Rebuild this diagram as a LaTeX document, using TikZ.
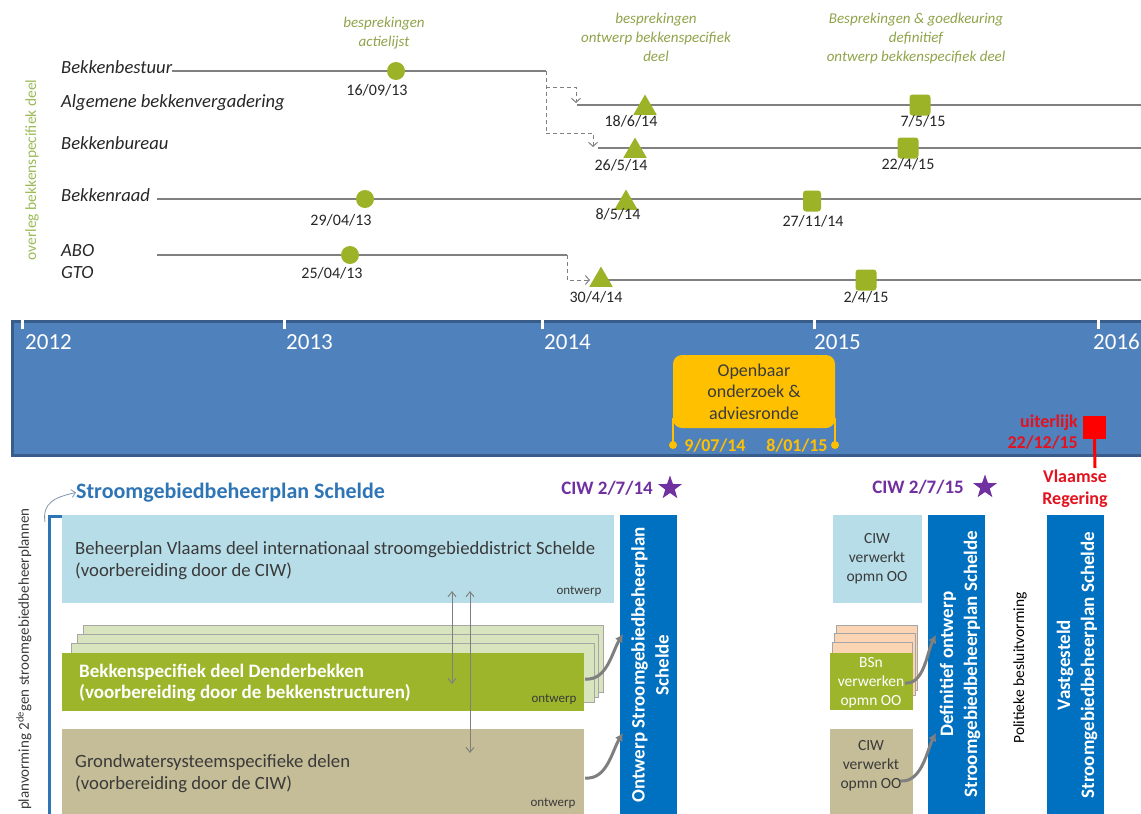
\documentclass[tikz,border=0pt]{standalone}
\usepackage{fontspec}
\setmainfont{Carlito}
\usetikzlibrary{arrows.meta,shapes.geometric}
\definecolor{txt}{HTML}{262626}
\definecolor{linec}{HTML}{808080}
\definecolor{mk}{HTML}{9CB227}
\definecolor{notec}{HTML}{8FA34A}
\definecolor{ovc}{HTML}{9BBB59}
\definecolor{band}{HTML}{4F81BD}
\definecolor{bandb}{HTML}{385D8A}
\definecolor{orng}{HTML}{FFC000}
\definecolor{otxt}{HTML}{3B3B3B}
\definecolor{redc}{HTML}{E3121E}
\definecolor{redsq}{HTML}{FF0000}
\definecolor{ttl}{HTML}{2E75B6}
\definecolor{brk}{HTML}{2E75B6}
\definecolor{lblue}{HTML}{B7DEE8}
\definecolor{sheetg}{HTML}{D7E4BD}
\definecolor{sheetb}{HTML}{A6A6A6}
\definecolor{greenb}{HTML}{9DB52A}
\definecolor{tan}{HTML}{C4BD97}
\definecolor{peach}{HTML}{FBD4B4}
\definecolor{barb}{HTML}{0070C0}
\definecolor{purp}{HTML}{7030A0}
\definecolor{boxtxt}{HTML}{3A3A3A}
\definecolor{arrowg}{HTML}{7F7F7F}
\definecolor{cvc}{HTML}{7F95B0}
\newcommand{\fsz}[2]{\fontsize{#1}{#2}\selectfont}
\begin{document}
\begin{tikzpicture}[x=1pt,y=-1pt,
  lbl/.style={anchor=mid west, inner sep=0pt, text=txt, font=\fsz{18.6}{21}\itshape},
  dt/.style={anchor=mid, inner sep=0pt, text=txt, font=\fsz{16}{19}},
  note/.style={anchor=north, inner sep=0pt, align=center, text=notec, font=\fsz{15}{19}\itshape},
  tl/.style={draw=linec, line width=1.2pt},
  dsh/.style={draw=linec, line width=1pt, dash pattern=on 4pt off 3pt},
  vtip/.style={-{Straight Barb[length=4pt,width=9pt]}},
  circ/.style={circle, fill=mk, minimum size=18pt, inner sep=0pt},
  tri/.style={regular polygon, regular polygon sides=3, fill=mk, minimum size=27pt, inner sep=0pt},
  sqr/.style={rectangle, rounded corners=3pt, fill=mk, minimum width=21pt, minimum height=21pt, inner sep=0pt},
  yr/.style={anchor=base west, inner sep=0pt, text=white, font=\fsz{23}{26}},
  boxs/.style={rectangle, anchor=north west, inner sep=0pt},
  bxt/.style={anchor=west, align=left, inner sep=0pt, text=boxtxt, font=\fsz{18.7}{22}},
  ontw/.style={inner sep=0pt, text=boxtxt, font=\fsz{13}{15}},
  bartxt/.style={rotate=90, align=center, text=white, inner sep=0pt, font=\fsz{19}{24}\bfseries},
  curv/.style={draw=arrowg, line width=3pt, -{Latex[length=8pt,width=9pt]}},
  dbl/.style={draw=arrowg, line width=0.9pt, {Straight Barb[length=5pt,width=8pt]}-{Straight Barb[length=5pt,width=8pt]}},
  smt/.style={align=center, inner sep=0pt, font=\fsz{15.5}{19}},
  ciw/.style={inner sep=0pt, text=purp, font=\fsz{19}{22}\bfseries},
  strs/.style={star, star points=5, star point ratio=2.5, fill=purp, minimum size=25pt, inner sep=0pt},
  sheet/.style={boxs, draw=sheetb, line width=0.6pt}
]
\useasboundingbox (0,0) rectangle (1141,814);
\clip (0,0) rectangle (1141,814);

% ---------- top: consultation rows ----------
\node[lbl] (lBB) at (61,71) {Bekkenbestuur};
\node[lbl] (lAB) at (61,105) {Algemene bekkenvergadering};
\node[lbl] (lBU) at (61,147) {Bekkenbureau};
\node[lbl] (lBR) at (61,199) {Bekkenraad};
\node[lbl] (lABO) at (61,254) {ABO};
\node[lbl] (lGTO) at (61,276) {GTO};

\node[note] (n1) at (384,17) {besprekingen\\actielijst};
\node[note] (n2) at (656,13) {besprekingen\\ontwerp bekkenspecifiek\\deel};
\node[note] (n3) at (916,13) {Besprekingen \& goedkeuring\\definitief\\ontwerp bekkenspecifiek deel};

\node[rotate=90, inner sep=0pt, text=ovc, font=\fsz{15.5}{18}] (ov) at (32,170) {overleg bekkenspecifiek deel};

\coordinate (j1) at (546,71);
\coordinate (j2) at (546,133);
\coordinate (j3) at (546,87);
\coordinate (k1) at (576,87);
\coordinate (k2) at (576,103);
\coordinate (k3) at (593,133);
\coordinate (k4) at (593,147);
\coordinate (aS) at (577,105); \coordinate (aE) at (1141,105);
\coordinate (uS) at (598,148); \coordinate (uE) at (1141,148);
\coordinate (rS) at (157,199); \coordinate (rE) at (1141,199);
\coordinate (oS) at (157,255); \coordinate (oJ) at (567,255); \coordinate (oK) at (567,280);
\coordinate (gA) at (590,280);
\coordinate (gS) at (601,280); \coordinate (gE) at (1141,280);

\draw[tl] (lBB.mid east) -- (j1);
\draw[dsh] (j1) -- (j2);
\draw[dsh, vtip] (j3) -- (k1) -- (k2);
\draw[dsh, vtip] (j2) -- (k3) -- (k4);
\draw[tl] (aS) -- (aE);
\draw[tl] (uS) -- (uE);
\draw[tl] (rS) -- (rE);
\draw[tl] (oS) -- (oJ);
\draw[dsh, vtip] (oJ) -- (oK) -- (gA);
\draw[tl] (gS) -- (gE);

\node[circ] (m1) at (396,71) {};
\node[tri] (m2) at (645,108) {};
\node[sqr] (m3) at (920,105) {};
\node[tri] (m4) at (635,151) {};
\node[sqr] (m5) at (908,148) {};
\node[circ] (m6) at (365,199) {};
\node[tri] (m7) at (626,203) {};
\node[sqr, minimum width=18pt] (m8) at (812,201) {};
\node[circ] (m9) at (350,255) {};
\node[tri] (m10) at (601,280) {};
\node[sqr] (m11) at (866,280) {};

\node[dt] (d1) at (377,93) {16/09/13};
\node[dt] (d2) at (631,124) {18/6/14};
\node[dt] (d3) at (923,124) {7/5/15};
\node[dt] (d4) at (621,168) {26/5/14};
\node[dt] (d5) at (908,167) {22/4/15};
\node[dt] (d6) at (341,223) {29/04/13};
\node[dt] (d7) at (618,217) {8/5/14};
\node[dt] (d8) at (813,224) {27/11/14};
\node[dt] (d9) at (332,276) {25/04/13};
\node[dt] (d10) at (596,300) {30/4/14};
\node[dt] (d11) at (866,300) {2/4/15};

% ---------- timeline band ----------
\node[fill=band, draw=bandb, line width=2.5pt, minimum width=1140pt, minimum height=134pt, anchor=north west, inner sep=0pt] (band) at (11,320) {};
\foreach \tx in {22,284,542,814,1098} \draw[white, line width=3pt] (\tx,315) -- (\tx,329);
\node[yr] (y12) at (25,349) {2012};
\node[yr] (y13) at (286,349) {2013};
\node[yr] (y14) at (544,349) {2014};
\node[yr] (y15) at (814,349) {2015};
\node[yr] (y16) at (1093,349) {2016};

\node[fill=orng, rounded corners=9pt, minimum width=162pt, minimum height=73pt, inner sep=0pt, align=center, text=otxt, font=\fsz{18}{21.5}] (oo) at (754,391.5) {Openbaar\\onderzoek \&\\adviesronde};
\node[circle, fill=orng, minimum size=8pt, inner sep=0pt] (od1) at (673,445) {};
\node[circle, fill=orng, minimum size=8pt, inner sep=0pt] (od2) at (835,445) {};
\draw[orng, line width=1.5pt] (od1.center) -- ([yshift=10pt]od1 |- oo.south);
\draw[orng, line width=1.5pt] (od2.center) -- ([yshift=10pt]od2 |- oo.south);
\node[inner sep=0pt, text=orng, font=\fsz{18}{21}\bfseries] (od1t) at (715,446) {9/07/14};
\node[inner sep=0pt, text=orng, font=\fsz{18}{21}\bfseries] (od2t) at (797,446) {8/01/15};

\node[fill=redsq, minimum size=23pt, inner sep=0pt] (rq) at (1094.5,427) {};
\coordinate (rl) at (1095,468);
\draw[redsq, line width=3pt] (rq.south) -- (rl);
\node[align=right, anchor=east, text=redc, inner sep=0pt, font=\fsz{18}{21}\bfseries] (ru) at (1078,432) {uiterlijk\\22/12/15};
\node[align=center, text=redc, inner sep=0pt, font=\fsz{18}{22}\bfseries] (vr) at (1075,489) {Vlaamse\\Regering};

% ---------- bottom: plans ----------
\node[anchor=mid west, inner sep=0pt, text=ttl, font=\fsz{22}{26}\bfseries] (title) at (76,496) {Stroomgebiedbeheerplan Schelde};
\coordinate (cv) at (45,522);
\draw[draw=cvc, line width=0.8pt, -{Straight Barb[length=4pt,width=8pt]}] (cv) .. controls (42,503) and (55,497) .. (title.west);
\coordinate (bk1) at (64,516); \coordinate (bk2) at (49,516); \coordinate (bk3) at (49,820);
\draw[brk, line width=3pt] (bk1) -- (bk2) -- (bk3);
\node[rotate=90, anchor=east, inner sep=0pt, text=boxtxt, font=\fsz{15}{18}] (pv) at (24,508) {planvorming 2\textsuperscript{de}gen stroomgebiedbeheerplannen};

\node[boxs, fill=lblue, minimum width=552pt, minimum height=88pt] (bp) at (62,515) {};
\node[bxt] (bpt) at (75,561) {Beheerplan Vlaams deel internationaal stroomgebieddistrict Schelde\\(voorbereiding door de CIW)};
\node[ontw] (bpo) at (579,591) {ontwerp};

\node[sheet, fill=sheetg, minimum width=520pt, minimum height=67pt] (s1) at (83,625) {};
\node[sheet, fill=sheetg, minimum width=521pt, minimum height=63pt] (s2) at (77,634) {};
\node[sheet, fill=sheetg, minimum width=523pt, minimum height=59pt] (s3) at (71,643) {};
\node[boxs, fill=greenb, minimum width=522pt, minimum height=58pt] (gb) at (62,653) {};
\node[anchor=west, align=left, text=white, inner sep=0pt, font=\fsz{19}{21.5}\bfseries] (gbt) at (79,683) {Bekkenspecifiek deel Denderbekken\\(voorbereiding door de bekkenstructuren)};
\node[ontw] (gbo) at (554,699) {ontwerp};

\node[boxs, fill=tan, minimum width=522pt, minimum height=95pt] (tb) at (62,729) {};
\node[bxt] (tbt) at (75,774) {Grondwatersysteemspecifieke delen\\(voorbereiding door de CIW)};
\node[ontw] (tbo) at (553,803) {ontwerp};

\coordinate (a1t) at (452,591); \coordinate (a1b) at (452,684);
\coordinate (a2t) at (470,591); \coordinate (a2b) at (470,753);
\draw[dbl] (a1t) -- (a1b);
\draw[dbl] (a2t) -- (a2b);

\node[boxs, fill=barb, minimum width=57pt, minimum height=310pt] (bar1) at (620,515) {};
\node[bartxt] (bar1t) at (650,665) {Ontwerp Stroomgebiedbeheerplan\\Schelde};
\coordinate (c1s) at (585,679); \coordinate (c1e) at (623,634);
\draw[curv] (c1s) .. controls (607,681) and (612,652) .. (c1e);
\coordinate (c2s) at (585,778); \coordinate (c2e) at (623,733);
\draw[curv] (c2s) .. controls (607,780) and (612,751) .. (c2e);

\node[ciw] (ciw1) at (607,488) {CIW 2/7/14};
\node[strs] (st1) at (670,488) {};

% right part
\node[boxs, fill=lblue, minimum width=89pt, minimum height=88pt] (rb1) at (833,515) {};
\node[smt, text=boxtxt] (rb1t) at (877,559) {CIW\\verwerkt\\opmn OO};
\node[sheet, fill=peach, minimum width=81pt, minimum height=65pt] (p1) at (836,625) {};
\node[sheet, fill=peach, minimum width=81pt, minimum height=62pt] (p2) at (834,633) {};
\node[sheet, fill=peach, minimum width=80pt, minimum height=58pt] (p3) at (832,642) {};
\node[boxs, fill=greenb, minimum width=83pt, minimum height=57pt] (rg) at (830,653) {};
\node[smt, text=white] (rgt) at (871,683) {BSn\\verwerken\\opmn OO};
\node[boxs, fill=tan, minimum width=83pt, minimum height=95pt] (rt) at (830,729) {};
\node[smt, text=boxtxt] (rtt) at (871,766) {CIW\\verwerkt\\opmn OO};

\node[boxs, fill=barb, minimum width=57pt, minimum height=310pt] (bar2) at (928,515) {};
\node[bartxt] (bar2t) at (960,664) {Definitief ontwerp\\Stroomgebiedbeheerplan Schelde};
\coordinate (c3s) at (905,683); \coordinate (c3e) at (936,635);
\draw[curv] (c3s) .. controls (924,685) and (927,652) .. (c3e);
\coordinate (c4s) at (900,781); \coordinate (c4e) at (936,733);
\draw[curv] (c4s) .. controls (922,783) and (927,750) .. (c4e);

\node[rotate=90, inner sep=0pt, text=black, font=\fsz{15.5}{18}] (pol) at (1020,668) {Politieke besluitvorming};

\node[boxs, fill=barb, minimum width=57pt, minimum height=310pt] (bar3) at (1047,515) {};
\node[bartxt] (bar3t) at (1077,665) {Vastgesteld\\Stroomgebiedbeheerplan Schelde};

\node[ciw] (ciw2) at (918,487) {CIW 2/7/15};
\node[strs] (st2) at (985,487) {};
\end{tikzpicture}
\end{document}
